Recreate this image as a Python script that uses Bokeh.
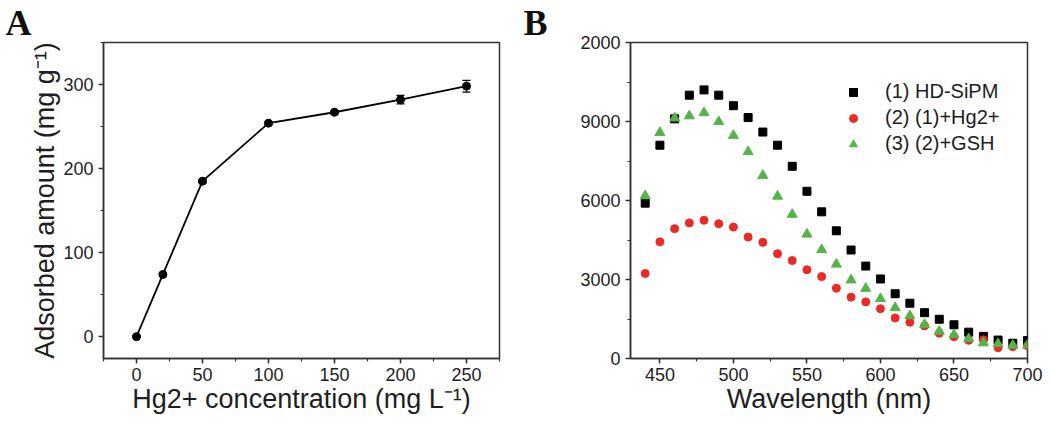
from bokeh.plotting import figure
from bokeh.layouts import row
from bokeh.models import (Range1d, SingleIntervalTicker, FixedTicker, Whisker,
                          ColumnDataSource, Legend, LegendItem, TeeHead)
from bokeh.embed import file_html
from bokeh.resources import INLINE

# ---------------- Panel A data ----------------
conc = [0, 20, 50, 100, 150, 200, 250]
adsorbed = [0, 74, 185, 254, 267, 282, 298]
adsorbed_err = [1, 2, 2, 2, 2, 5, 7]

# ---------------- Panel B data ----------------
wavelength = [440, 450, 460, 470, 480, 490, 500, 510, 520, 530, 540, 550, 560,
              570, 580, 590, 600, 610, 620, 630, 640, 650, 660, 670, 680, 690, 700]
hd_sipm = [5900, 8100, 9100, 10000, 10200, 10000, 9600, 9150, 8600, 8100, 7300,
           6350, 5570, 4850, 4120, 3510, 3020, 2460, 2100, 1740, 1490, 1280,
           1000, 840, 700, 580, 680]
hd_hg = [3230, 4430, 4930, 5150, 5250, 5120, 4990, 4610, 4410, 3980, 3720, 3370,
         3110, 2670, 2330, 2150, 1890, 1540, 1380, 1240, 960, 830, 690, 710, 410,
         450, 480]
hd_gsh = [6180, 8580, 9130, 9210, 9330, 8990, 8470, 7850, 6950, 6160, 5470, 4720,
          4130, 3580, 2980, 2660, 2270, 1930, 1620, 1290, 1030, 900, 750, 590, 560,
          500, 500]
series_labels = ["(1) HD-SiPM", "(2) (1)+Hg2+", "(3) (2)+GSH"]

TXT = "#1e1e1e"
AX = "#333333"
SANS = "Liberation Sans"


def style_axes(p, panel_letter, letter_offset):
    for ax in (p.xaxis[0], p.yaxis[0]):
        ax.axis_line_color = AX
        ax.axis_line_width = 1.5
        ax.major_tick_line_color = AX
        ax.major_tick_line_width = 1.5
        ax.minor_tick_line_color = AX
        ax.minor_tick_line_width = 1.2
        ax.major_tick_in = 0
        ax.major_tick_out = 5
        ax.minor_tick_in = 0
        ax.minor_tick_out = 3
        ax.major_label_text_font = SANS
        ax.major_label_text_font_size = "18px"
        ax.major_label_text_color = TXT
        ax.axis_label_text_font = SANS
        ax.axis_label_text_font_size = "27px"
        ax.axis_label_text_font_style = "normal"
        ax.axis_label_text_color = TXT
        ax.axis_label_standoff = 0
    p.xaxis[0].major_label_standoff = 4
    p.yaxis[0].major_label_standoff = 5
    p.xgrid.grid_line_color = None
    p.ygrid.grid_line_color = None
    p.outline_line_color = AX
    p.outline_line_width = 1.5
    p.background_fill_color = "white"
    p.border_fill_color = "white"
    p.title.text = panel_letter
    p.title.text_font = "Liberation Serif"
    p.title.text_font_style = "bold"
    p.title.text_font_size = "36px"
    p.title.text_color = "#111111"
    p.title.align = "left"
    p.title.offset = letter_offset
    p.title.standoff = 0


# ---------------- Panel A ----------------
pA = figure(width=520, height=420, output_backend="svg", toolbar_location=None,
            x_range=Range1d(-25, 275), y_range=Range1d(-26, 350),
            min_border_left=103, min_border_right=21, min_border_top=40,
            min_border_bottom=61)
style_axes(pA, "A", -98)
pA.xaxis[0].ticker = SingleIntervalTicker(interval=50, num_minor_ticks=2)
pA.yaxis[0].ticker = SingleIntervalTicker(interval=100, num_minor_ticks=2)
pA.xaxis[0].axis_label = "Hg2+ concentration (mg L\u207b\u00b9)"
pA.yaxis[0].axis_label = "Adsorbed amount (mg g\u207b\u00b9)"

srcA = ColumnDataSource(dict(
    x=conc, y=adsorbed,
    lo=[a - e for a, e in zip(adsorbed, adsorbed_err)],
    hi=[a + e for a, e in zip(adsorbed, adsorbed_err)]))
pA.line("x", "y", source=srcA, line_color="black", line_width=1.8)
pA.add_layout(Whisker(source=srcA, base="x", lower="lo", upper="hi",
                      line_color="black", line_width=1.2,
                      upper_head=TeeHead(size=8, line_color="black", line_width=1.2),
                      lower_head=TeeHead(size=8, line_color="black", line_width=1.2)))
pA.scatter("x", "y", source=srcA, marker="circle", size=8,
           fill_color="black", line_color="black")

# ---------------- Panel B ----------------
pB = figure(width=528, height=420, output_backend="svg", toolbar_location=None,
            x_range=Range1d(430, 700), y_range=Range1d(0, 12000),
            min_border_left=110, min_border_right=21, min_border_top=39,
            min_border_bottom=62)
style_axes(pB, "B", -107)
pB.xaxis[0].ticker = SingleIntervalTicker(interval=50, num_minor_ticks=2)
pB.yaxis[0].ticker = FixedTicker(ticks=[0, 3000, 6000, 9000, 12000],
                                 minor_ticks=[1500, 4500, 7500, 10500])
pB.yaxis[0].major_label_overrides = {12000: "2000"}
pB.xaxis[0].axis_label = "Wavelength (nm)"

srcB = ColumnDataSource(dict(x=wavelength, a=hd_sipm, b=hd_hg, c=hd_gsh))
r1 = pB.scatter("x", "a", source=srcB, marker="square", size=8,
                fill_color="black", line_color="black")
r2 = pB.scatter("x", "b", source=srcB, marker="circle", size=8,
                fill_color="#ee2822", line_color="#ee2822")
r3 = pB.scatter("x", "c", source=srcB, marker="triangle", size=10,
                fill_color="#55b447", line_color="#55b447")
legend = Legend(items=[LegendItem(label=series_labels[0], renderers=[r1]),
                       LegendItem(label=series_labels[1], renderers=[r2]),
                       LegendItem(label=series_labels[2], renderers=[r3])],
                location=(213, 203), padding=0, margin=0, spacing=3,
                glyph_width=20, glyph_height=22, label_height=22,
                label_standoff=22, border_line_color=None,
                background_fill_alpha=0,
                label_text_font=SANS, label_text_font_size="20px",
                label_text_color=TXT)
pB.add_layout(legend)

layout = row(pA, pB)
open("out.html", "w").write(file_html(layout, INLINE))
